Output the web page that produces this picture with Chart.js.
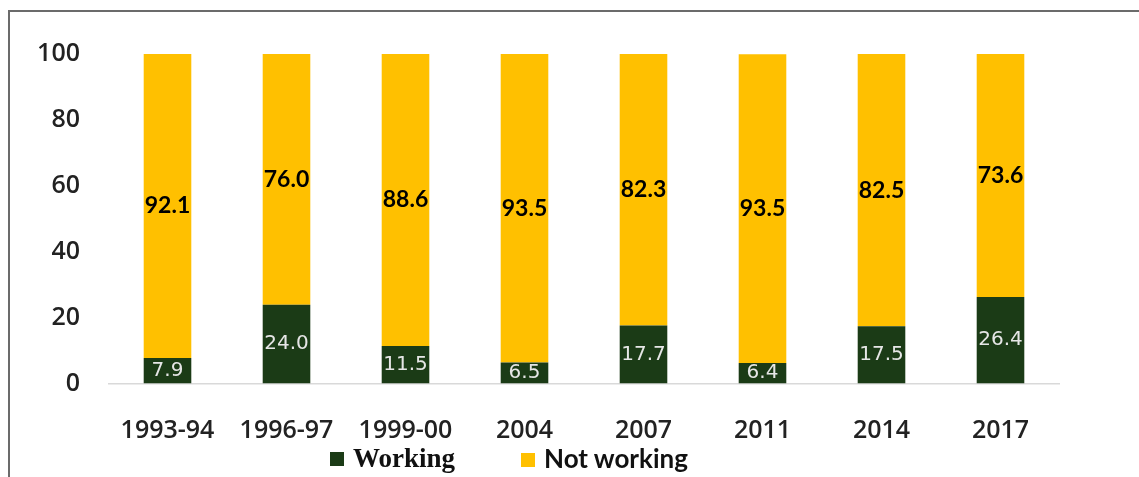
<!DOCTYPE html>
<html>
<head>
<meta charset="utf-8">
<script src="https://cdn.jsdelivr.net/npm/chart.js@4"></script>
<style>
  body { margin: 0; background: #fff; }
  #wrap { position: relative; width: 1139px; height: 477px; overflow: hidden; }
  #frame { position: absolute; left: 8px; top: 10px; width: 1200px; height: 500px;
           border-top: 2px solid #6b6b6b; border-left: 2px solid #6b6b6b; }
  #chart { position: absolute; left: 0; top: 0; }
  #legend { position: absolute; top: 440px; left: 0; width: 1139px; height: 36px; }
  .item { position: absolute; top: 0; height: 36px; line-height: 36px; color: #111; font-weight: bold; }
  .box { display: inline-block; width: 14px; height: 14px; margin-right: 9px; vertical-align: 1px; }
</style>
</head>
<body>
<div id="wrap">
  <div id="frame"></div>
  <canvas id="chart" width="1139" height="477"></canvas>
  <div id="legend">
    <div class="item" style="left:330px;font-family:'Liberation Serif',serif;font-size:27px;"><span class="box" style="background:#1b3b16"></span>Working</div>
    <div class="item" style="left:521px;font-family:Lato,sans-serif;font-size:26px;"><span class="box" style="background:#ffc000"></span>Not working</div>
  </div>
</div>
<script>
const years = ['1993-94', '1996-97', '1999-00', '2004', '2007', '2011', '2014', '2017'];
const working = [7.9, 24.0, 11.5, 6.5, 17.7, 6.4, 17.5, 26.4];
const notWorking = [92.1, 76.0, 88.6, 93.5, 82.3, 93.5, 82.5, 73.6];
const yTicks = [0, 20, 40, 60, 80, 100];

// value labels in the middle of each segment
const segmentLabels = {
  id: 'segmentLabels',
  afterDatasetsDraw(chart) {
    const ctx = chart.ctx;
    ctx.save();
    ctx.textAlign = 'center';
    ctx.textBaseline = 'middle';
    chart.data.datasets.forEach(function (ds, i) {
      const meta = chart.getDatasetMeta(i);
      meta.data.forEach(function (bar, j) {
        const mid = (bar.y + bar.base) / 2;
        if (i === 0) {
          ctx.font = '20px "DejaVu Sans"';
          ctx.fillStyle = '#e6e6e6';
        } else {
          ctx.font = 'bold 23px Lato';
          ctx.fillStyle = '#000';
        }
        ctx.fillText(ds.data[j].toFixed(1), bar.x, mid);
      });
    });
    ctx.restore();
  }
};

const tickFont = { family: '"Open Sans"', size: 25, weight: '600' };

const ctx = document.getElementById('chart').getContext('2d');
const chart = new Chart(ctx, {
  type: 'bar',
  data: {
    labels: years,
    datasets: [{
      label: 'Working',
      data: working,
      backgroundColor: '#1b3b16'
    }, {
      label: 'Not working',
      data: notWorking,
      backgroundColor: '#ffc000'
    }]
  },
  options: {
    responsive: false,
    animation: false,
    layout: { padding: { top: 54, right: 79, bottom: 0, left: 0 } },
    datasets: { bar: { barPercentage: 0.4, categoryPercentage: 1 } },
    plugins: {
      legend: { display: false },
      tooltip: { enabled: false }
    },
    scales: {
      x: {
        stacked: true,
        grid: { display: false },
        border: { display: false },
        ticks: { color: '#222', font: tickFont, padding: 24 },
        afterFit: function (scale) { scale.height = 93; }
      },
      y: {
        stacked: true,
        min: 0,
        max: 100,
        afterBuildTicks: function (scale) { scale.ticks = yTicks.map(v => ({ value: v })); },
        grid: {
          drawTicks: false,
          lineWidth: 1.5,
          color: function (c) { return c.tick && c.tick.value === 0 ? '#d9d9d9' : 'rgba(0,0,0,0)'; }
        },
        border: { display: false },
        ticks: { color: '#222', font: tickFont, padding: 28 },
        afterFit: function (scale) { scale.width = 108; }
      }
    }
  },
  plugins: [segmentLabels]
});
</script>
</body>
</html>
